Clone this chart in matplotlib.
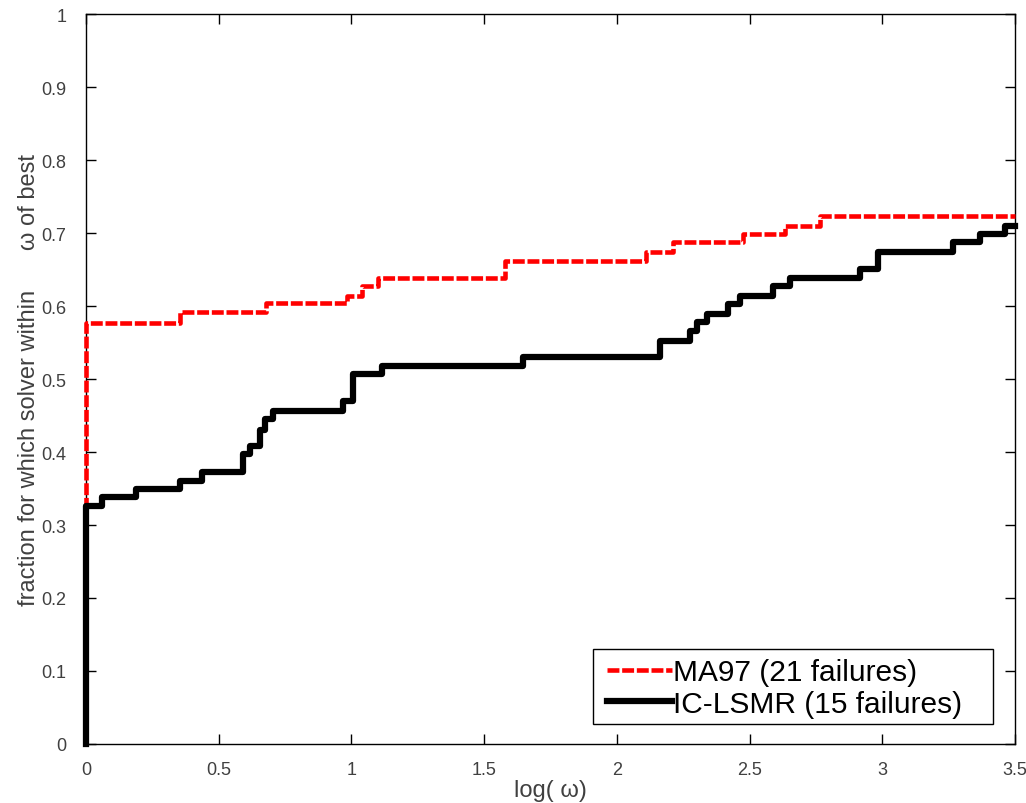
import matplotlib
matplotlib.use("Agg")
import matplotlib.pyplot as plt
from matplotlib.patches import Rectangle

# Performance profile data (step functions)
ma97_x = [0.0, 0.0, 0.354, 0.68, 0.985, 1.04, 1.10, 1.58, 2.11, 2.21, 2.475, 2.634, 2.766, 3.5]
ma97_y = [0.0, 0.577, 0.592, 0.604, 0.614, 0.627, 0.638, 0.662, 0.674, 0.688, 0.699, 0.71, 0.723, 0.723]

iclsmr_x = [0.0, 0.0, 0.06, 0.19, 0.354, 0.437, 0.592, 0.618, 0.656, 0.674, 0.705, 0.968, 1.006,
            1.115, 1.647, 2.163, 2.276, 2.302, 2.34, 2.419, 2.464, 2.589, 2.653, 2.916, 2.984,
            3.267, 3.368, 3.463, 3.5]
iclsmr_y = [0.0, 0.326, 0.338, 0.349, 0.36, 0.372, 0.397, 0.408, 0.43, 0.445, 0.456, 0.47, 0.507,
            0.518, 0.53, 0.552, 0.566, 0.578, 0.589, 0.603, 0.614, 0.627, 0.638, 0.651, 0.674,
            0.688, 0.699, 0.71, 0.71]

labels = ["MA97 (21 failures)", "IC-LSMR (15 failures)"]
xticks = [0, 0.5, 1, 1.5, 2, 2.5, 3, 3.5]
xticklabels = ["0", "0.5", "1", "1.5", "2", "2.5", "3", "3.5"]
yticks = [0, 0.1, 0.2, 0.3, 0.4, 0.5, 0.6, 0.7, 0.8, 0.9, 1.0]
yticklabels = ["0", "0.1", "0.2", "0.3", "0.4", "0.5", "0.6", "0.7", "0.8", "0.9", "1"]

plt.rcParams['font.family'] = ['Liberation Sans', 'DejaVu Sans']

fig = plt.figure(figsize=(10.26, 8.04), dpi=100)
ax = fig.add_axes([0.0838, 0.0734, 0.9055, 0.9079])

ax.plot(ma97_x, ma97_y, drawstyle='steps-post', color='#ff0000', lw=3.3,
        dashes=(2.6, 0.6), label=labels[0], clip_on=False, zorder=3)
ax.plot(iclsmr_x, iclsmr_y, drawstyle='steps-post', color='black', lw=4.5,
        label=labels[1], clip_on=False, zorder=4)

ax.set_xlim(0, 3.5)
ax.set_ylim(0, 1)
ax.set_xticks(xticks)
ax.set_xticklabels(xticklabels)
ax.set_yticks(yticks)
ax.set_yticklabels(yticklabels)
ax.tick_params(direction='in', length=7, width=1, top=True, right=True,
               labelsize=13, labelcolor='#404040')
ax.tick_params(axis='x', pad=12)
ax.tick_params(axis='y', pad=14)
for s in ax.spines.values():
    s.set_linewidth(1.0)

ax.set_xlabel("log( ω)", fontsize=17, color='#404040', labelpad=1)
ax.set_ylabel("fraction for which solver within      ω of best", fontsize=17,
              color='#404040', labelpad=1)

# legend box (MATLAB style: wider on the right)
box = Rectangle((0.5457, 0.0274), 0.9763 - 0.5457, 0.1301 - 0.0274,
                transform=ax.transAxes, facecolor='white', edgecolor='black',
                lw=1.0, zorder=5)
ax.add_patch(box)
leg = ax.legend(loc='center left', bbox_to_anchor=(0.5608, 0.0767), fontsize=21.5,
                frameon=False, handlelength=2.17, handletextpad=0.03,
                labelspacing=0.12, borderpad=0.0, borderaxespad=0.0)
leg.set_zorder(6)

fig.savefig("out.png", dpi=100)
